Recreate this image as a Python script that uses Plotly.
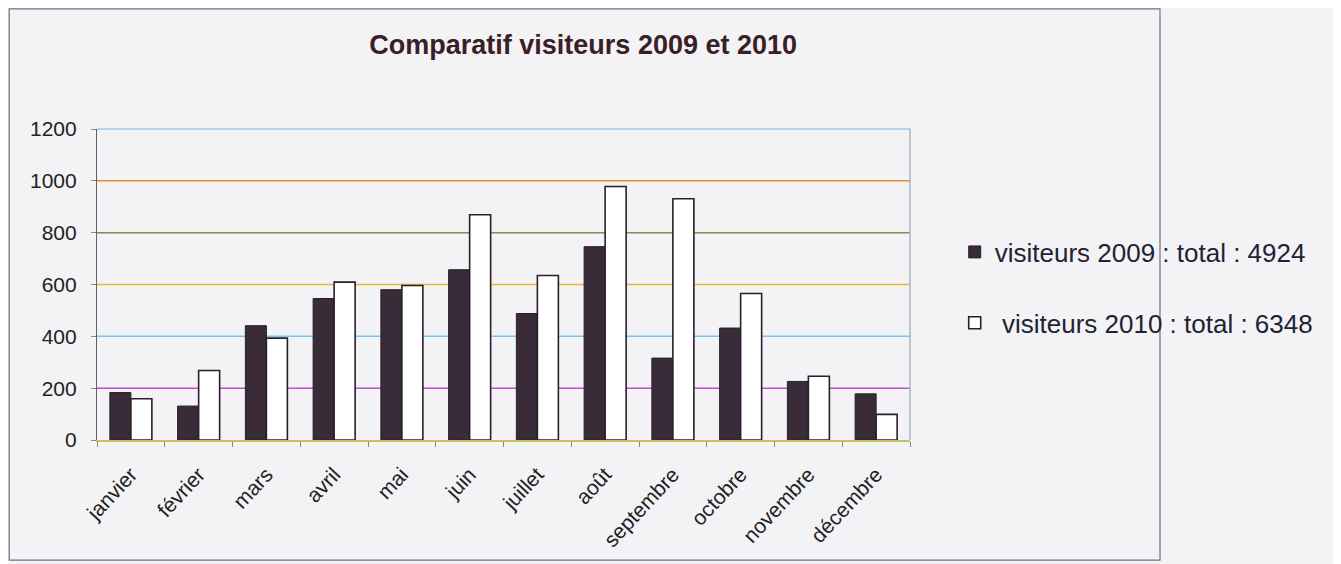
import plotly.graph_objects as go

months = ["janvier", "février", "mars", "avril", "mai", "juin", "juillet",
          "août", "septembre", "octobre", "novembre", "décembre"]
visitors_2009 = [183, 131, 441, 546, 580, 657, 488, 746, 316, 432, 226, 178]
visitors_2010 = [159, 268, 393, 609, 596, 869, 635, 978, 931, 565, 246, 99]
y_ticks = [0, 200, 400, 600, 800, 1000, 1200]
# the scanned print shows each gridline in its own colour
grid_colours = ["#c8c060", "#c050d0", "#70c8f0", "#e8b830", "#8a8a50", "#e09030", "#9ccbe8"]

fig = go.Figure()

fig.add_trace(go.Bar(
    x=months, y=visitors_2009,
    name=f"visiteurs 2009 : total : {sum(visitors_2009)}",
    legendgroup="a",
    marker=dict(color="#3a2b38", line=dict(color="#2a1f2a", width=1)),
))
fig.add_trace(go.Bar(
    x=months, y=visitors_2010,
    name=f"\u00a0visiteurs 2010 : total : {sum(visitors_2010)}",
    legendgroup="b",
    marker=dict(color="#ffffff", line=dict(color="#2a1f2a", width=1.6)),
))

# inner gridlines (0 and 1200 are handled by the axis line / top border)
for val, col in zip(y_ticks[1:-1], grid_colours[1:-1]):
    fig.add_shape(type="line", xref="paper", yref="y", x0=0, x1=1, y0=val, y1=val,
                  line=dict(color=col, width=1.5), layer="below")

# top border of the plot area and right edge
fig.add_shape(type="line", xref="paper", yref="paper", x0=0, x1=1, y0=1, y1=1,
              line=dict(color=grid_colours[-1], width=1.5))
fig.add_shape(type="line", xref="paper", yref="paper", x0=1, x1=1, y0=0, y1=1,
              line=dict(color="#a8b8c8", width=1.5))
# outer chart frame
fig.add_shape(type="rect", xref="paper", yref="paper", x0=-0.108, x1=1.3075,
              y0=-0.386, y1=1.386, line=dict(color="#707088", width=1.2))

fig.update_layout(
    width=1341, height=564,
    margin=dict(l=89, r=439, t=121, b=132),
    paper_bgcolor="#f3f3f6",
    plot_bgcolor="#f3f3f6",
    font=dict(family="Liberation Sans, Arial, sans-serif", color="#222222"),
    title=dict(text="<b>Comparatif visiteurs 2009 et 2010</b>",
               x=0.598, xref="paper", y=0.935, yref="container",
               xanchor="center", yanchor="middle",
               font=dict(size=27, color="#3a2026")),
    barmode="group", bargap=0.38, bargroupgap=0,
    legend=dict(x=1.055, y=0.68, xanchor="left", yanchor="top",
                font=dict(size=26, color="#222233"),
                tracegroupgap=34, bgcolor="rgba(0,0,0,0)"),
)

fig.update_xaxes(
    tickangle=-47, tickfont=dict(size=21), ticklabelstandoff=12,
    tickson="boundaries", ticks="outside", ticklen=5, tickcolor="#888888",
    showline=True, linecolor=grid_colours[0], linewidth=2, showgrid=False,
)
fig.update_yaxes(
    range=[0, 1200], tickvals=y_ticks, tickfont=dict(size=21),
    ticks="outside", ticklen=5, tickcolor="#888888", ticklabelstandoff=10,
    showline=True, linecolor="#606070", linewidth=1.2,
    showgrid=False, zeroline=False,
)

fig.write_html("out.html")
